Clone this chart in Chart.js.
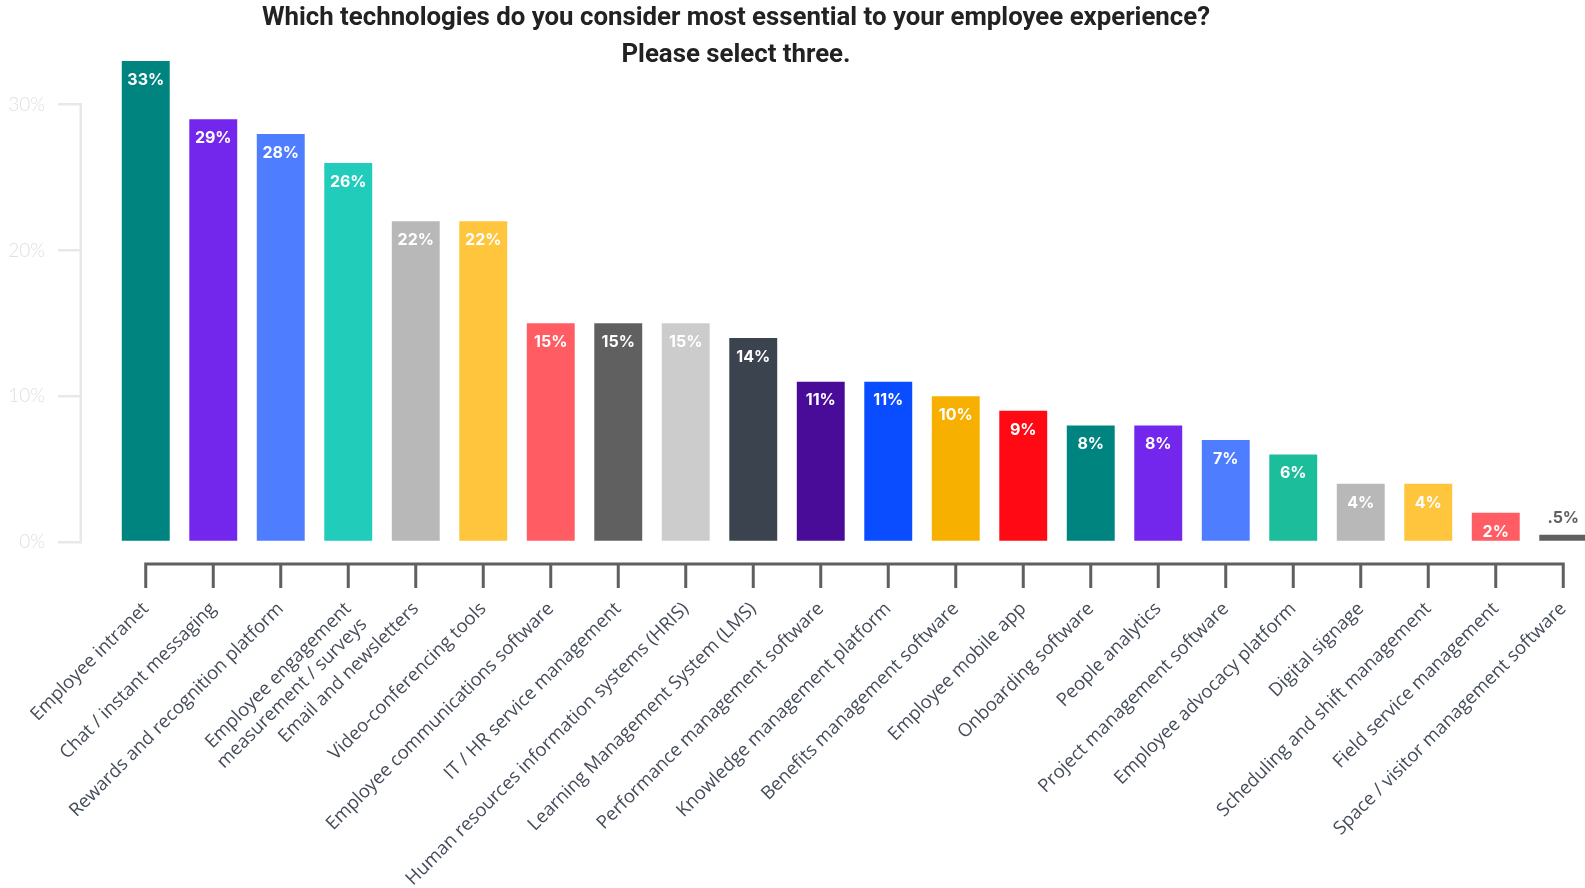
<!DOCTYPE html>
<html>
<head>
<meta charset="utf-8">
<script src="https://cdn.jsdelivr.net/npm/chart.js@4/dist/chart.umd.min.js"></script>
<style>
  html, body { margin: 0; padding: 0; background: #fff; overflow: hidden; }
  #wrap { position: relative; width: 1600px; height: 888px; }
  .title {
    position: absolute; left: 0; width: 1472px; text-align: center;
    font-family: "Liberation Sans Narrow", "Roboto", sans-serif;
    font-weight: bold; font-size: 25.8px; color: #222; line-height: 30px;
  }
</style>
</head>
<body>
<div id="wrap">
  <div class="title" style="top:1px">Which technologies do you consider most essential to your employee experience?</div>
  <div class="title" style="top:38px">Please select three.</div>
  <canvas id="bar-chart"></canvas>
</div>
<script>
// survey answers, share of respondents (%)
var categories = [
  "Employee intranet",
  "Chat / instant messaging",
  "Rewards and recognition platform",
  ["Employee engagement", "measurement / surveys"],
  "Email and newsletters",
  "Video-conferencing tools",
  "Employee communications software",
  "IT / HR service management",
  "Human resources information systems (HRIS)",
  "Learning Management System (LMS)",
  "Performance management software",
  "Knowledge management platform",
  "Benefits management software",
  "Employee mobile app",
  "Onboarding software",
  "People analytics",
  "Project management software",
  "Employee advocacy platform",
  "Digital signage",
  "Scheduling and shift management",
  "Field service management",
  "Space / visitor management software"
];
var values = [33, 29, 28, 26, 22, 22, 15, 15, 15, 14, 11, 11, 10, 9, 8, 8, 7, 6, 4, 4, 2, 0.5];
var valueLabels = ["33%", "29%", "28%", "26%", "22%", "22%", "15%", "15%", "15%", "14%", "11%",
  "11%", "10%", "9%", "8%", "8%", "7%", "6%", "4%", "4%", "2%", ".5%"];
var barColors = ["#00847f", "#7427ec", "#4f7dff", "#22ccbb", "#b8b8b8", "#ffc53d", "#ff5c63",
  "#606060", "#cccccc", "#3a434e", "#480c99", "#0a4cff", "#f7b000", "#ff0a14", "#00847f",
  "#7427ec", "#4f7dff", "#1bbd9a", "#b8b8b8", "#ffc53d", "#ff5c63", "#606060"];
var yTicks = [0, 10, 20, 30];

// bracket lines for both axes, placed from the scales
var axisLines = {
  id: "axisLines",
  afterDraw: function (chart) {
    var ctx = chart.ctx, x = chart.scales.x, y = chart.scales.y;
    ctx.save();
    ctx.strokeStyle = "#e8e8e8";
    ctx.lineWidth = 2.5;
    ctx.beginPath();
    ctx.moveTo(y.right - 1.25, y.getPixelForValue(30) - 1.25);
    ctx.lineTo(y.right - 1.25, y.getPixelForValue(0) + 1.25);
    ctx.stroke();

    var base = chart.chartArea.bottom + 22;
    var n = x.ticks.length;
    ctx.strokeStyle = "#5f5f5f";
    ctx.lineWidth = 3;
    ctx.beginPath();
    ctx.moveTo(x.getPixelForTick(0) - 1.5, base);
    ctx.lineTo(x.getPixelForTick(n - 1) + 1.5, base);
    for (var i = 0; i < n; i++) {
      var px = x.getPixelForTick(i);
      ctx.moveTo(px, base);
      ctx.lineTo(px, base + 24);
    }
    ctx.stroke();
    ctx.restore();
  }
};

// percentage written into the top of each bar
var barValues = {
  id: "barValues",
  afterDatasetsDraw: function (chart) {
    var ctx = chart.ctx;
    var meta = chart.getDatasetMeta(0);
    ctx.save();
    ctx.font = "bold 16px Inter, 'Open Sans', sans-serif";
    ctx.textAlign = "center";
    ctx.textBaseline = "middle";
    meta.data.forEach(function (bar, i) {
      var h = bar.base - bar.y;
      if (h < 22) {
        ctx.fillStyle = "#5f5f5f";
        ctx.fillText(valueLabels[i], bar.x, bar.y - 17);
      } else {
        ctx.fillStyle = "#fff";
        ctx.fillText(valueLabels[i], bar.x, bar.y + 19);
      }
    });
    ctx.restore();
  }
};

new Chart(document.getElementById("bar-chart"), {
  type: "bar",
  data: {
    labels: categories,
    datasets: [{
      label: "Share",
      data: values,
      backgroundColor: barColors,
      categoryPercentage: 1,
      barPercentage: 0.71,
      yAxisID: "y"
    }]
  },
  options: {
    responsive: true,
    maintainAspectRatio: false,
    animation: false,
    layout: { padding: { top: 61, right: 3, left: 0, bottom: 0 } },
    plugins: {
      legend: { display: false },
      title: { display: false },
      tooltip: { enabled: false }
    },
    scales: {
      x: {
        offset: true,
        grid: { display: false, drawTicks: false },
        border: { display: false },
        ticks: {
          autoSkip: false,
          maxRotation: 45,
          minRotation: 45,
          padding: 56,
          color: "#454d5a",
          font: { family: "'Open Sans', sans-serif", size: 18.5 }
        },
        afterFit: function (s) {
          s.height = 346;
          // rotated labels may spill past the plot; let them
          s.paddingLeft = 0;
          s.paddingRight = 0;
        }
      },
      y: {
        position: "left",
        weight: 1,
        min: 0,
        max: 33,
        grid: { display: true, drawOnChartArea: false, drawTicks: true, tickLength: 24, color: "#e8e8e8", lineWidth: 2.5 },
        border: { display: false },
        ticks: {
          stepSize: 10,
          padding: 13,
          color: "#e0e0e0",
          font: { family: "Lato, sans-serif", size: 19, weight: "300" },
          callback: function (v) { return v + "%"; }
        },
        afterBuildTicks: function (s) {
          s.ticks = yTicks.map(function (v) { return { value: v }; });
        },
        afterFit: function (s) { s.width = 82; }
      },
      gap: {
        position: "left",
        weight: 0,
        grid: { display: false },
        border: { display: false },
        ticks: { display: false },
        afterFit: function (s) { s.width = 30; }
      }
    }
  },
  plugins: [axisLines, barValues]
});
</script>
</body>
</html>
